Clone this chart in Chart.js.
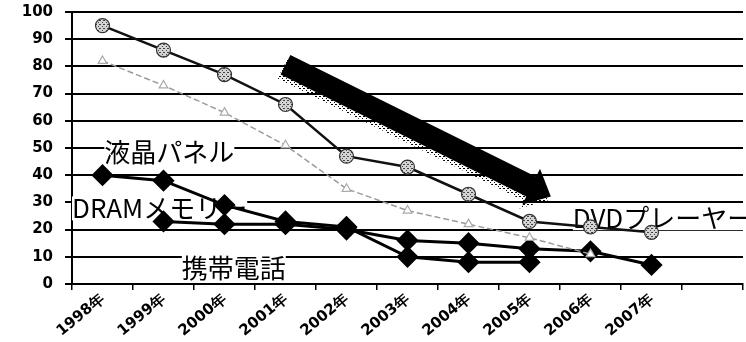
<!DOCTYPE html>
<html>
<head>
<meta charset="utf-8">
<script src="https://cdn.jsdelivr.net/npm/chart.js@4/dist/chart.umd.min.js"></script>
<style>
  html, body { margin: 0; padding: 0; background: #fff; overflow: hidden; }
  #c { display: block; }
</style>
</head>
<body>
<!-- the plot runs a few pixels past the window's right edge, so the last labels are clipped -->
<canvas id="c" width="755" height="342"></canvas>
<script>
// Price index per year (1998 = reference), one array per product line
const years = ['1998年', '1999年', '2000年', '2001年', '2002年', '2003年', '2004年', '2005年', '2006年', '2007年', ''];
const dvdPlayer   = [95, 86, 77, 66, 47, 43, 33, 23, 21, 19, null];
const mobilePhone = [82, 73, 63, 51, 35, 27, 22, 17, 11, null, null];
const lcdPanel    = [40, 38, 29, 23, 21, 10, 8, 8, null, null, null];
const dramMemory  = [null, 23, 22, 22, 20, 16, 15, 13, 12, 7, null];
const yMin = 0, yMax = 100, yStep = 10;

// Series labels placed in the plot (category index of left edge, value at text centre)
const seriesLabels = [
  { text: '液晶パネル',     x: 0.03, y: 48.4 },
  { text: 'DRAMメモリー',   x: -0.5, y: 27.8 },
  { text: '携帯電話',       x: 1.3, y: 5.9 },
  { text: 'DVDプレーヤー', x: 7.71, y: 24.2 }
];
// Trend arrow, tail and tip in data space
const trendArrow = { from: { x: 3.0, y: 80.6 }, to: { x: 7.35, y: 32.2 } };

function makePattern(bg, dots) {
  const p = document.createElement('canvas');
  p.width = 4; p.height = 4;
  const g = p.getContext('2d');
  if (bg) { g.fillStyle = bg; g.fillRect(0, 0, 4, 4); }
  g.fillStyle = dots;
  g.fillRect(0, 0, 1, 1);
  g.fillRect(2, 2, 1, 1);
  g.fillRect(3, 0, 1, 1);
  return g.createPattern(p, 'repeat');
}
const ctx0 = document.getElementById('c').getContext('2d');
const hatch = makePattern('#d4d4d4', '#444');
const speckle = makePattern(null, '#000');

// Horizontal value lines across the plot, one per y tick
const valueLines = {
  id: 'valueLines',
  beforeDatasetsDraw(chart) {
    const { ctx, chartArea, scales: { y } } = chart;
    ctx.save();
    ctx.strokeStyle = '#000';
    ctx.lineWidth = 2;
    y.ticks.forEach(t => {
      const py = Math.round(y.getPixelForValue(t.value));
      ctx.beginPath();
      ctx.moveTo(chartArea.left, py);
      ctx.lineTo(chartArea.right, py);
      ctx.stroke();
    });
    ctx.restore();
  }
};

const labelPlugin = {
  id: 'seriesLabels',
  beforeDatasetsDraw(chart) {
    const { ctx, scales: { x, y } } = chart;
    ctx.save();
    ctx.font = '26px "Noto Sans CJK JP"';
    ctx.textBaseline = 'middle';
    ctx.textAlign = 'left';
    seriesLabels.forEach(l => {
      const px = x.getPixelForValue(l.x);
      const py = y.getPixelForValue(l.y);
      const w = ctx.measureText(l.text).width;
      ctx.fillStyle = '#fff';
      ctx.fillRect(px, py - 12, w, 24);
      ctx.fillStyle = '#000';
      ctx.fillText(l.text, px, py);
    });
    ctx.restore();
  }
};

const arrowPlugin = {
  id: 'trendArrow',
  afterDatasetsDraw(chart) {
    const { ctx, scales: { x, y } } = chart;
    const x0 = x.getPixelForValue(trendArrow.from.x), y0 = y.getPixelForValue(trendArrow.from.y);
    const x1 = x.getPixelForValue(trendArrow.to.x),   y1 = y.getPixelForValue(trendArrow.to.y);
    const len = Math.hypot(x1 - x0, y1 - y0);
    const ux = (x1 - x0) / len, uy = (y1 - y0) / len;
    const nx = -uy, ny = ux;
    const bw = 11, hw = 20, hl = 22;
    const bx = x1 - ux * hl, by = y1 - uy * hl;
    const pts = [
      [x0 + nx * bw, y0 + ny * bw],
      [bx + nx * bw, by + ny * bw],
      [bx + nx * hw, by + ny * hw],
      [x1, y1],
      [bx - nx * hw, by - ny * hw],
      [bx - nx * bw, by - ny * bw],
      [x0 - nx * bw, y0 - ny * bw]
    ];
    const path = (dx, dy) => {
      ctx.beginPath();
      pts.forEach((p, i) => i ? ctx.lineTo(p[0] + dx, p[1] + dy) : ctx.moveTo(p[0] + dx, p[1] + dy));
      ctx.closePath();
    };
    ctx.save();
    path(-3, 4);
    ctx.fillStyle = speckle;
    ctx.fill();
    path(0, 0);
    ctx.fillStyle = '#000';
    ctx.fill();
    ctx.restore();
  }
};

new Chart(ctx0, {
  type: 'line',
  data: {
    labels: years,
    datasets: [
      {
        label: 'DVDプレーヤー', data: dvdPlayer,
        borderColor: '#111', borderWidth: 2.5,
        pointStyle: 'circle', pointRadius: 7,
        pointBackgroundColor: hatch, pointBorderColor: '#333', pointBorderWidth: 1.2
      },
      {
        label: '携帯電話', data: mobilePhone,
        borderColor: '#9a9a9a', borderWidth: 1.5, borderDash: [6, 3],
        pointStyle: 'triangle', pointRadius: 5,
        pointBackgroundColor: '#fff', pointBorderColor: '#aaa', pointBorderWidth: 1.2
      },
      {
        label: '液晶パネル', data: lcdPanel,
        borderColor: '#000', borderWidth: 3,
        pointStyle: 'rectRot', pointRadius: 9,
        pointBackgroundColor: '#000', pointBorderColor: '#000'
      },
      {
        label: 'DRAMメモリー', data: dramMemory,
        borderColor: '#000', borderWidth: 3,
        pointStyle: 'rectRot', pointRadius: 9,
        pointBackgroundColor: '#000', pointBorderColor: '#000'
      }
    ]
  },
  options: {
    responsive: false,
    animation: false,
    devicePixelRatio: 1,
    spanGaps: false,
    layout: { padding: { top: 11, right: 0, left: 0, bottom: 0 } },
    plugins: { legend: { display: false }, tooltip: { enabled: false } },
    scales: {
      x: {
        offset: true,
        grid: { display: true, drawOnChartArea: false, drawTicks: true, tickLength: 6, color: '#000', lineWidth: 1.5, offset: true },
        border: { display: true, color: '#000', width: 2 },
        ticks: {
          autoSkip: false, minRotation: 40, maxRotation: 40, padding: 0, color: '#000',
          font: { family: 'DejaVu Sans', weight: 'bold', size: 15 }
        },
        afterFit(s) { s.height = 58; s.paddingRight = 0; }
      },
      y: {
        min: yMin, max: yMax,
        grid: { display: true, drawOnChartArea: true, drawTicks: true, color: '#000', lineWidth: 2, tickLength: 7 },
        border: { display: true, color: '#000', width: 2 },
        ticks: { stepSize: yStep, padding: 12, color: '#000', font: { family: 'DejaVu Sans', weight: 'bold', size: 15 } },
        afterFit(s) { s.width = 72; s.paddingTop = 0; }
      }
    }
  },
  plugins: [valueLines, labelPlugin, arrowPlugin]
});
</script>
</body>
</html>
